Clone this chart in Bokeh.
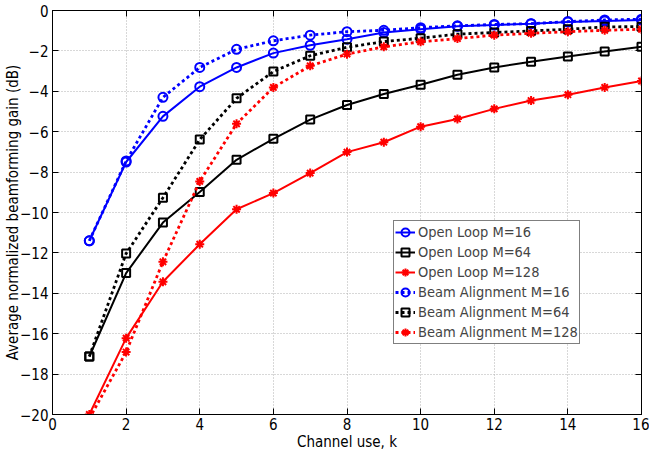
from bokeh.plotting import figure
from bokeh.models import (Range1d, SingleIntervalTicker, LinearAxis, Legend, LegendItem)
from bokeh.embed import file_html
from bokeh.resources import INLINE

# ---- data ----
k = list(range(1, 17))
ol_16 = [-11.4, -7.5, -5.24, -3.77, -2.82, -2.11, -1.72, -1.42, -1.09, -0.93, -0.78, -0.72, -0.65, -0.57, -0.52, -0.47]
ol_64 = [-17.13, -13.0, -10.5, -8.99, -7.39, -6.35, -5.4, -4.68, -4.13, -3.68, -3.18, -2.82, -2.54, -2.28, -2.03, -1.8]
ol_128 = [-20.0, -16.22, -13.43, -11.57, -9.84, -9.04, -8.05, -7.01, -6.52, -5.75, -5.37, -4.87, -4.46, -4.17, -3.81, -3.49]
ba_16 = [-11.4, -7.45, -4.3, -2.82, -1.92, -1.5, -1.22, -1.05, -0.98, -0.85, -0.76, -0.69, -0.65, -0.55, -0.47, -0.43]
ba_64 = [-17.13, -12.03, -9.27, -6.39, -4.35, -3.02, -2.24, -1.82, -1.54, -1.37, -1.17, -1.09, -1.01, -0.93, -0.81, -0.8]
ba_128 = [-20.2, -16.91, -12.44, -8.46, -5.61, -3.81, -2.74, -2.16, -1.8, -1.55, -1.39, -1.22, -1.13, -1.05, -0.98, -0.93]

series = [
    ("Open Loop M=16", ol_16, "#0000ff", "circle", "solid"),
    ("Open Loop M=64", ol_64, "#000000", "square", "solid"),
    ("Open Loop M=128", ol_128, "#ff0000", "asterisk", "solid"),
    ("Beam Alignment M=16", ba_16, "#0000ff", "circle", "dotted"),
    ("Beam Alignment M=64", ba_64, "#000000", "square", "dotted"),
    ("Beam Alignment M=128", ba_128, "#ff0000", "asterisk", "dotted"),
]
x_label = "Channel use, k"
y_label = "Average normalized beamforming gain (dB)"

FONT = "DejaVu Sans Condensed"
FS = "15px"

p = figure(width=649, height=453, output_backend="svg", toolbar_location=None,
           x_range=Range1d(0, 16), y_range=Range1d(-20, 0),
           min_border_left=52, min_border_right=8, min_border_top=10, min_border_bottom=38)
p.background_fill_color = "white"
p.border_fill_color = "white"
p.outline_line_color = "#000000"
p.outline_line_width = 1

for ax in (p.xaxis[0], p.yaxis[0]):
    ax.ticker = SingleIntervalTicker(interval=2)
    ax.major_tick_in = 6
    ax.major_tick_out = 0
    ax.minor_tick_in = 0
    ax.minor_tick_out = 0
    ax.major_tick_line_color = "#000000"
    ax.axis_line_color = "#000000"
    ax.major_label_text_font = FONT
    ax.major_label_text_font_size = FS
    ax.major_label_text_color = "#000000"
    ax.axis_label_text_font = FONT
    ax.axis_label_text_font_size = FS
    ax.axis_label_text_font_style = "normal"
    ax.axis_label_text_color = "#000000"
p.xaxis.major_label_standoff = 3
p.yaxis.major_label_standoff = 4
p.xaxis.axis_label = x_label
p.yaxis.axis_label = y_label
p.xaxis.axis_label_standoff = 0
p.yaxis.axis_label_standoff = -5

blank = {v: "" for v in range(-20, 17, 2)}
for side in ("right", "above"):
    ax = LinearAxis(ticker=SingleIntervalTicker(interval=2), major_tick_in=6, major_tick_out=0,
                    minor_tick_in=0, minor_tick_out=0, major_label_text_font_size="1px",
                    major_label_overrides=blank,
                    major_label_standoff=0, axis_line_color="#000000", major_tick_line_color="#000000")
    p.add_layout(ax, side)

p.xgrid.ticker = SingleIntervalTicker(interval=2)
p.ygrid.ticker = SingleIntervalTicker(interval=2)
for g in (p.xgrid[0], p.ygrid[0]):
    g.grid_line_color = "#b0b0b0"
    g.grid_line_dash = "1 2"
    g.grid_line_width = 1

items = []
for name, vals, color, marker, style in series:
    if style == "solid":
        lr = p.line(k, vals, line_color=color, line_width=2)
    else:
        lr = p.line(k, vals, line_color=color, line_width=2.8, line_dash="3 3")
    sr = p.scatter(k, vals, marker=marker, size=9 if marker != "square" else 8,
                   line_color=color, fill_color=None, line_width=2)
    items.append(LegendItem(label=name, renderers=[lr, sr]))

legend = Legend(items=items, location=(341, 70), label_text_font=FONT, label_text_font_size="14.5px",
                label_height=20, glyph_height=20, glyph_width=20, label_standoff=3,
                padding=1, spacing=0, margin=0, border_line_color="#000000", border_line_width=1,
                background_fill_color="white", background_fill_alpha=1.0)
p.add_layout(legend, "center")

open("out.html", "w").write(file_html(p, INLINE))
